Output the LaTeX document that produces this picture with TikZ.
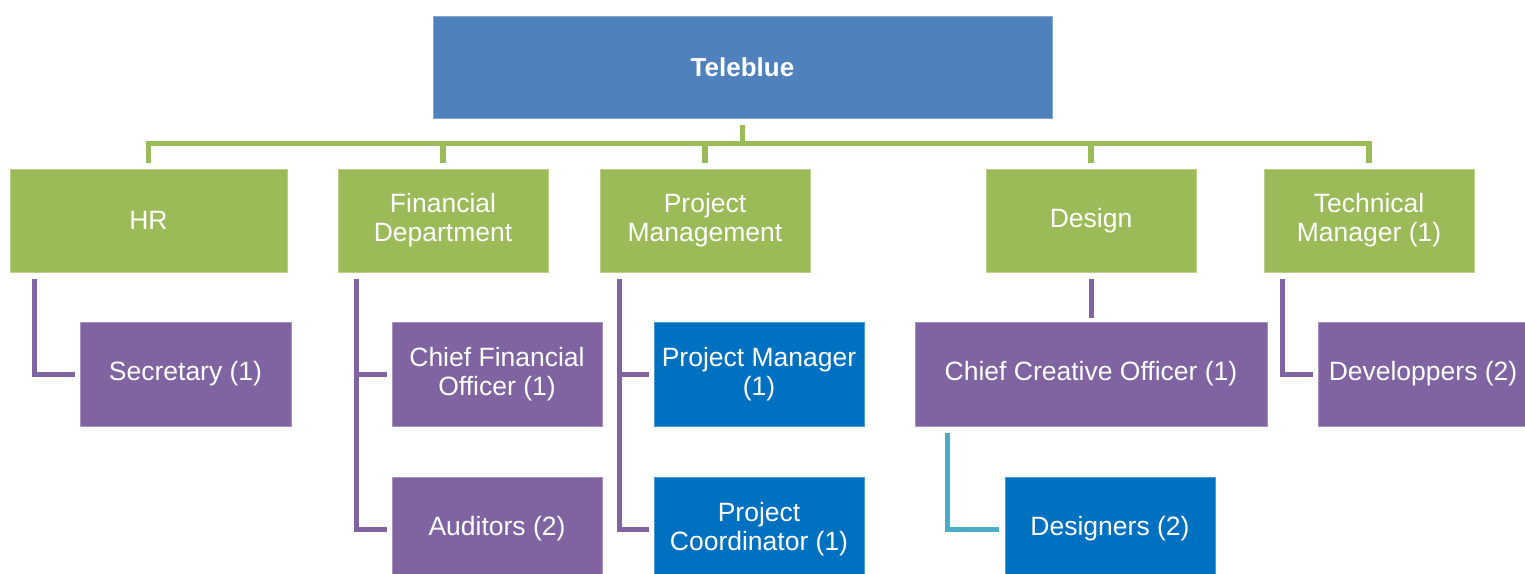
\documentclass[tikz,border=0pt]{standalone}
\usepackage{fontspec}
\setmainfont{Liberation Sans}
\definecolor{cTele}{HTML}{4F81BD}
\definecolor{cGreen}{HTML}{9BBB59}
\definecolor{cPurple}{HTML}{8064A2}
\definecolor{cBlue}{HTML}{0070C0}
\definecolor{cLight}{HTML}{4BACC6}
\begin{document}
\begin{tikzpicture}[x=1pt,y=-1pt,
  box/.style={rectangle, inner sep=0pt, align=center, text=white,
     font=\fontsize{26.5}{29}\selectfont, line width=1pt, minimum height=104pt},
  topbox/.style={box, fill=cTele, draw=cTele!70!white, minimum width=619pt, minimum height=102pt, font=\fontsize{26}{29}\selectfont\bfseries},
  gbox/.style={box, fill=cGreen, draw=cGreen!70!white, minimum height=103pt},
  pbox/.style={box, fill=cPurple, draw=cPurple!70!white},
  bbox/.style={box, fill=cBlue, draw=cBlue!70!white},
  w210/.style={minimum width=210pt},
  gline/.style={draw=cGreen, line width=5.5pt},
  pline/.style={draw=cPurple, line width=5pt},
  lline/.style={draw=cLight, line width=5pt}]
\useasboundingbox (0,0) rectangle (1525,573);
\begin{scope}
\clip (0,0) rectangle (1525,573);
% top
\node[topbox] (tele) at (742.5,67) {Teleblue};
% departments
\node[gbox, minimum width=277pt] (hr) at (148.5,220.5) {HR};
\node[gbox, w210] (fin) at (443,220.5) {Financial\\Department};
\node[gbox, w210] (pm) at (705,220.5) {Project\\Management};
\node[gbox, w210] (des) at (1091,220.5) {Design};
\node[gbox, w210] (tech) at (1369,220.5) {Technical\\Manager (1)};
% second row
\node[pbox, minimum width=211pt] (sec) at (185.5,374) {Secretary (1)};
\node[pbox, w210] (cfo) at (497,374) {Chief Financial\\Officer (1)};
\node[bbox, w210] (pmgr) at (759,374) {Project Manager\\(1)};
\node[pbox, minimum width=352pt] (cco) at (1091,374) {Chief Creative Officer (1)};
\node[pbox, w210] (dev) at (1423,374) {Developpers (2)};
% third row
\node[pbox, w210] (aud) at (497,529) {Auditors (2)};
\node[bbox, w210] (pco) at (759,529) {Project\\Coordinator (1)};
\node[bbox, w210] (dsg) at (1110,529) {Designers (2)};
% green bus
\coordinate (t0) at ([yshift=-6pt]tele.south);
\foreach \d in {hr,fin,pm,des,tech}{
  \draw[gline] (t0) -- ++(0,19) -| ([yshift=6pt]\d.north);
}
% HR
\draw[pline] ([xshift=25pt,yshift=-6pt]hr.south west) |- ([xshift=-5pt]sec.west);
% Financial
\coordinate (f1) at ([xshift=18.5pt,yshift=-6pt]fin.south west);
\draw[pline] (f1) |- ([xshift=-5pt]aud.west);
\draw[pline] (f1 |- cfo.west) -- ([xshift=-5pt]cfo.west);
% Project management
\coordinate (p1) at ([xshift=19.5pt,yshift=-6pt]pm.south west);
\draw[pline] (p1) |- ([xshift=-5pt]pco.west);
\draw[pline] (p1 |- pmgr.west) -- ([xshift=-5pt]pmgr.west);
% Design
\draw[pline] ([yshift=-6pt]des.south) -- ([yshift=4pt]cco.north);
\draw[lline] ([xshift=33pt,yshift=-6pt]cco.south west) |- ([xshift=-6pt]dsg.west);
% Technical
\draw[pline] ([xshift=19pt,yshift=-6pt]tech.south west) |- ([xshift=-5pt]dev.west);
\end{scope}
\end{tikzpicture}
\end{document}
